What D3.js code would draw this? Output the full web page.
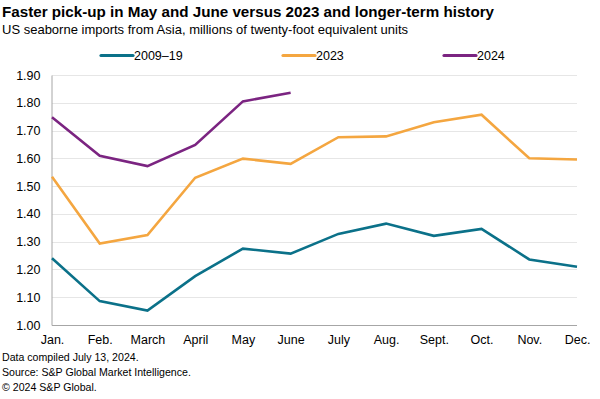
<!DOCTYPE html>
<html>
<head>
<meta charset="utf-8">
<script src="https://cdn.jsdelivr.net/npm/d3@7"></script>
<style>
  body { margin: 0; background: #fff; }
  svg { display: block; font-family: "Liberation Sans", Arial, sans-serif; }
</style>
</head>
<body>
<svg id="chart" width="600" height="399"></svg>
<script>
var months = ['Jan.', 'Feb.', 'March', 'April', 'May', 'June', 'July', 'Aug.', 'Sept.', 'Oct.', 'Nov.', 'Dec.'];
var hist = [1.240, 1.086, 1.052, 1.176, 1.275, 1.257, 1.328, 1.365, 1.321, 1.346, 1.236, 1.210];
var y2023 = [1.534, 1.293, 1.324, 1.530, 1.599, 1.580, 1.676, 1.679, 1.730, 1.757, 1.600, 1.596];
var y2024 = [1.748, 1.609, 1.572, 1.648, 1.805, 1.836];
var yTicks = [1.0, 1.1, 1.2, 1.3, 1.4, 1.5, 1.6, 1.7, 1.8, 1.9];
var seriesNames = ['2009–19', '2023', '2024'];
var colors = ['#0B7189', '#F4A640', '#7B2481'];

var svg = d3.select('#chart');
var margin = {left: 52, right: 23, top: 75, bottom: 74};
var W = 600, H = 399;

var x = d3.scalePoint().domain(months).range([margin.left, W - margin.right]);
var y = d3.scaleLinear().domain([1.0, 1.9]).range([H - margin.bottom, margin.top]);

// titles
svg.append('text').attr('x', 2).attr('y', 17)
	.attr('font-size', 15.2).attr('font-weight', 'bold').attr('fill', '#000')
	.text('Faster pick-up in May and June versus 2023 and longer-term history');
svg.append('text').attr('x', 2).attr('y', 33.5)
	.attr('font-size', 13).attr('fill', '#000')
	.text('US seaborne imports from Asia, millions of twenty-foot equivalent units');

// gridlines
svg.append('g').selectAll('line').data(yTicks.slice(1)).join('line')
	.attr('x1', margin.left).attr('x2', W - margin.right)
	.attr('y1', function (d) { return Math.round(y(d)) + 0.5; })
	.attr('y2', function (d) { return Math.round(y(d)) + 0.5; })
	.attr('stroke', '#e6e6e6').attr('stroke-width', 1);

// y axis
var yAxis = svg.append('g').attr('transform', 'translate(' + (margin.left - 0.5) + ',0)')
	.call(d3.axisLeft(y).tickValues(yTicks).tickFormat(d3.format('.2f')).tickSize(0).tickPadding(11));
yAxis.select('.domain').attr('stroke', '#a6a6a6');
yAxis.selectAll('text').attr('font-size', 12.5).attr('fill', '#000')
	.attr('font-family', '"Liberation Sans", Arial, sans-serif');

// x axis
var xAxis = svg.append('g').attr('transform', 'translate(0,' + (H - margin.bottom + 0.5) + ')')
	.call(d3.axisBottom(x).tickSize(0).tickPadding(10));
xAxis.select('.domain').attr('stroke', '#a6a6a6').attr('d', 'M' + margin.left + ',0H' + (W - margin.right));
xAxis.selectAll('text').attr('font-size', 12.5).attr('fill', '#000')
	.attr('font-family', '"Liberation Sans", Arial, sans-serif');

// lines
var line = d3.line()
	.x(function (d, i) { return x(months[i]); })
	.y(function (d) { return y(d); });

[hist, y2023, y2024].forEach(function (s, i) {
	svg.append('path').datum(s)
		.attr('d', line)
		.attr('fill', 'none')
		.attr('stroke', colors[i])
		.attr('stroke-width', 2.6)
		.attr('stroke-linejoin', 'miter');
});

// legend
var legendX = [101, 283, 444];
seriesNames.forEach(function (name, i) {
	var g = svg.append('g').attr('transform', 'translate(' + legendX[i] + ',55.5)');
	g.append('line').attr('x1', 0).attr('x2', 32).attr('y1', 0).attr('y2', 0)
		.attr('stroke', colors[i]).attr('stroke-width', 3.2).attr('stroke-linecap', 'round');
	g.append('text').attr('x', 33).attr('y', 4.4).attr('font-size', 12.5).attr('fill', '#000').text(name);
});

// footer
var notes = ['Data compiled July 13, 2024.', 'Source: S&P Global Market Intelligence.', '© 2024 S&P Global.'];
svg.append('g').selectAll('text').data(notes).join('text')
	.attr('x', 2)
	.attr('y', function (d, i) { return 361 + i * 15; })
	.attr('font-size', 10.6).attr('fill', '#000')
	.text(function (d) { return d; });
</script>
</body>
</html>
